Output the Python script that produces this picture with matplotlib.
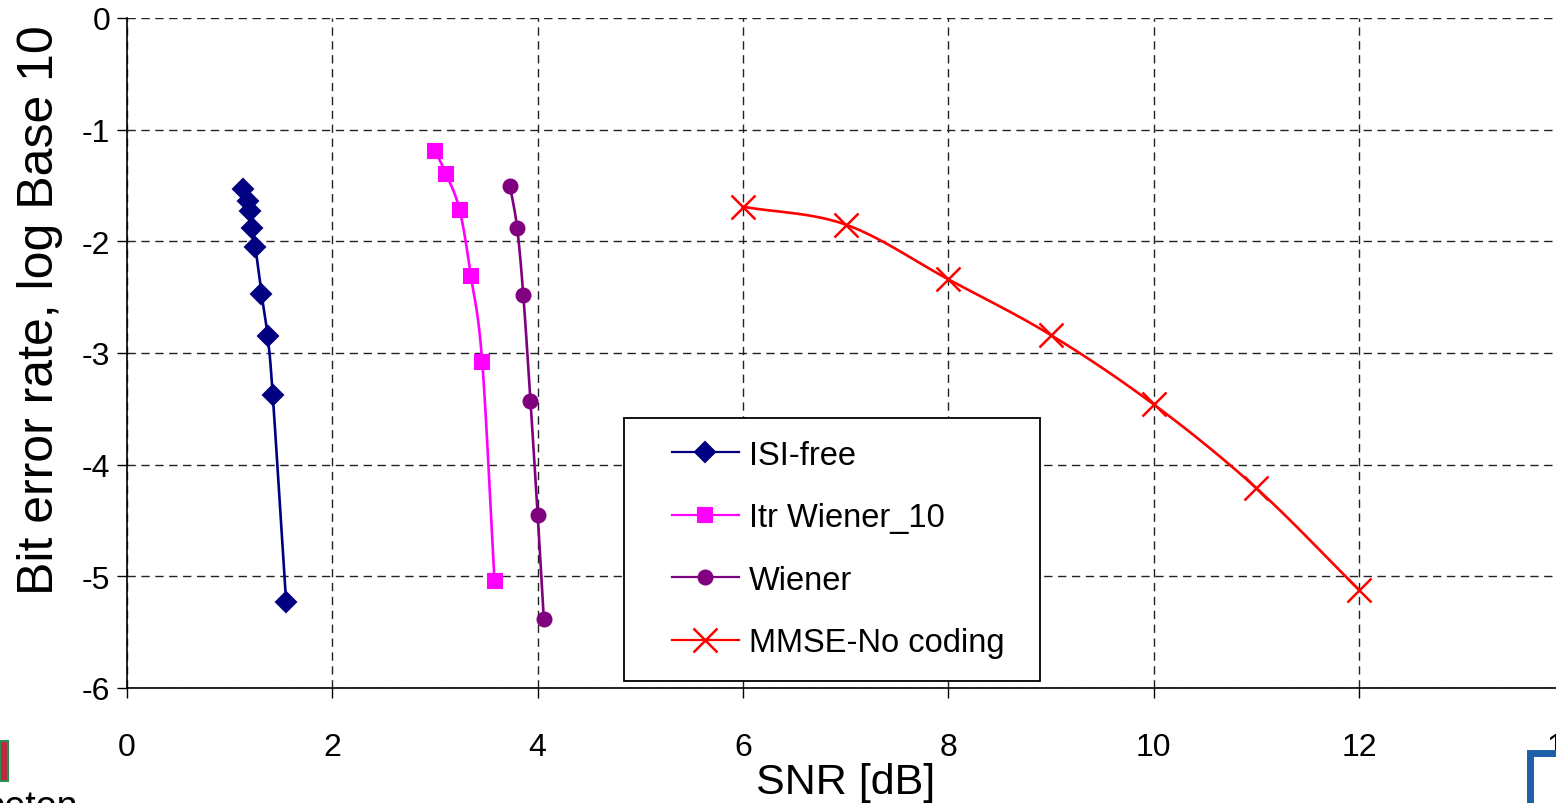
import numpy as np
import matplotlib
matplotlib.use("Agg")
import matplotlib.pyplot as plt
from matplotlib.patches import Rectangle

plt.rcParams['font.family'] = ['Liberation Sans', 'DejaVu Sans']

# ---- data ----
isi_x = [1.13, 1.18, 1.20, 1.22, 1.25, 1.31, 1.37, 1.42, 1.55]
isi_y = [-1.53, -1.64, -1.73, -1.88, -2.05, -2.47, -2.85, -3.38, -5.23]

itr_x = [3.00, 3.11, 3.24, 3.35, 3.46, 3.58]
itr_y = [-1.19, -1.40, -1.72, -2.31, -3.08, -5.04]

wie_x = [3.73, 3.80, 3.86, 3.93, 4.00, 4.06]
wie_y = [-1.50, -1.88, -2.48, -3.43, -4.45, -5.38]

mmse_x = [6, 7, 8, 9, 10, 11, 12]
mmse_y = [-1.69, -1.85, -2.34, -2.84, -3.46, -4.21, -5.12]

x_ticks = [0, 2, 4, 6, 8, 10, 12, 14]
y_ticks = [0, -1, -2, -3, -4, -5, -6]


def smooth(xs, ys, n=20):
    """Catmull-Rom curve through the points (like Excel smoothed lines)."""
    p = np.column_stack([xs, ys]).astype(float)
    p = np.vstack([2 * p[0] - p[1], p, 2 * p[-1] - p[-2]])
    out = []
    for i in range(1, len(p) - 2):
        p0, p1, p2, p3 = p[i - 1], p[i], p[i + 1], p[i + 2]
        t = np.linspace(0, 1, n, endpoint=False)[:, None]
        seg = 0.5 * ((2 * p1) + (-p0 + p2) * t + (2 * p0 - 5 * p1 + 4 * p2 - p3) * t ** 2
                     + (-p0 + 3 * p1 - 3 * p2 + p3) * t ** 3)
        out.append(seg)
    out.append(p[-2][None, :])
    c = np.vstack(out)
    return c[:, 0], c[:, 1]


W, H = 1556, 804
fig = plt.figure(figsize=(W / 100, H / 100), dpi=100)
ax = fig.add_axes([127 / W, (H - 689) / H, 1437.3 / W, 670 / H])

series = [
    (isi_x, isi_y, 'ISI-free', '#000080', 'D', 10.5, 1.5),
    (itr_x, itr_y, 'Itr Wiener_10', '#FF00FF', 's', 9.5, 1.5),
    (wie_x, wie_y, 'Wiener', '#800080', 'o', 10, 1.5),
    (mmse_x, mmse_y, 'MMSE-No coding', '#FF0000', 'x', 17, 1.8),
]
handles = []
for xs, ys, lab, col, mk, ms, mew in series:
    sx, sy = smooth(xs, ys)
    ax.plot(sx, sy, color=col, lw=1.9, zorder=3)
    ax.plot(xs, ys, ls='none', marker=mk, ms=ms, color=col, mec=col, mew=mew, zorder=4)
    h, = ax.plot([], [], color=col, lw=1.6, marker=mk, ms=ms, mec=col, mew=mew, label=lab)
    handles.append(h)

ax.set_xlim(0, 14)
ax.set_ylim(-6, 0)
ax.set_xticks(x_ticks)
ax.set_yticks(y_ticks)
ax.set_xticklabels([str(v) for v in x_ticks])
ax.set_yticklabels([str(v) for v in y_ticks])
ax.tick_params(direction='out', length=7, width=1, labelsize=23, color='black')
ax.tick_params(axis='y', pad=5)
ax.tick_params(axis='x', pad=25)
ax.grid(True, color='#222222', ls=(0, (6, 4)), lw=1)
ax.set_axisbelow(True)
for s in ['top', 'right']:
    ax.spines[s].set_visible(False)
for s in ['left', 'bottom']:
    ax.spines[s].set_linewidth(1.2)
    ax.spines[s].set_color('black')

ax.set_xlabel('SNR [dB]', fontsize=31, labelpad=-0.5)
ax.set_ylabel('Bit error rate, log Base 10', fontsize=36)
ax.yaxis.set_label_coords(-64 / 1437.3, (689 - 310) / 670)

# legend box drawn at the reference position, legend content centred inside
ax.add_patch(Rectangle((624 / W, 1 - 682 / H), (1040 - 624) / W, (682 - 419) / H,
                       transform=fig.transFigure, facecolor='white', edgecolor='black',
                       lw=1.3, zorder=5, clip_on=False))
leg = ax.legend(handles=handles, loc='center', fontsize=23.5, frameon=False,
                bbox_to_anchor=(838 / W, 1 - 550 / H), bbox_transform=fig.transFigure,
                handlelength=2.05, handletextpad=0.3, labelspacing=0.97,
                borderpad=0, borderaxespad=0)
leg.set_zorder(6)

# partial logos at the bottom corners
fig.patches.append(Rectangle((0, (H - 782) / H), 8 / W, 40 / H, transform=fig.transFigure,
                             facecolor='#C0283A', edgecolor='#2E8B57', lw=1.5))
fig.text(78 / W, -22 / H, 'Princeton', fontsize=27, ha='right', va='bottom', color='black')
fig.patches.append(Rectangle((1530 / W, -0.02), 40 / W, 66 / H, transform=fig.transFigure,
                             facecolor='white', edgecolor='#1F5FA8', lw=5))

fig.savefig('out.png', dpi=100)
